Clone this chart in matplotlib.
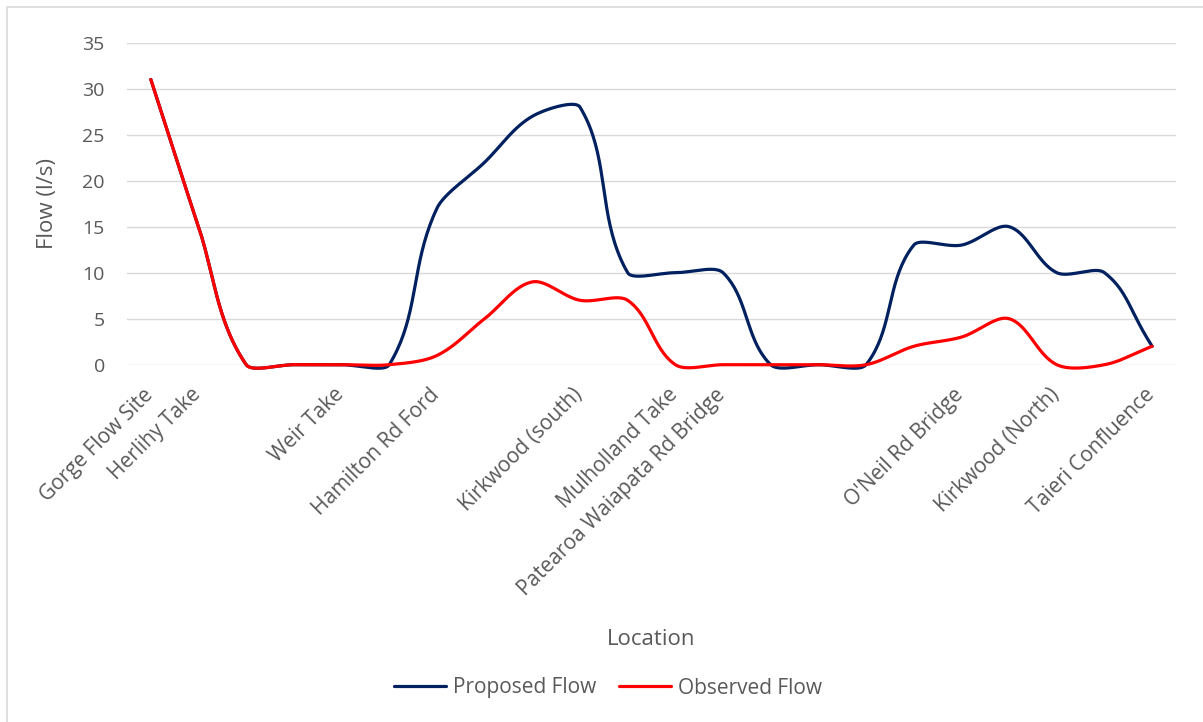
import numpy as np
import matplotlib.pyplot as plt
from matplotlib.patches import Rectangle
from matplotlib.transforms import ScaledTranslation

# Flow at each monitoring location along the river (l/s)
locations = [
    "Gorge Flow Site", "Herlihy Take", "", "", "Weir Take", "",
    "Hamilton Rd Ford", "", "", "Kirkwood (south)", "",
    "Mulholland Take", "Patearoa Waiapata Rd Bridge", "", "", "", "",
    "O'Neil Rd Bridge", "", "Kirkwood (North)", "", "Taieri Confluence",
]
proposed_flow = [31, 15, 0, 0, 0, 0, 17, 22, 27, 28, 10, 10, 10, 0, 0, 0, 13, 13, 15, 10, 10, 2]
observed_flow = [31, 15, 0, 0, 0, 0, 1, 5, 9, 7, 7, 0, 0, 0, 0, 0, 2, 3, 5, 0, 0, 2]

TEXT = "#595959"
GRID = "#d9d9d9"
BLUE = "#002060"
RED = "#ff0000"

plt.rcParams["font.family"] = ["Open Sans", "DejaVu Sans"]


def smooth_curve(ax, xs, ys, steps=40):
    """Bezier smoothing in screen space; control arms shrink next to long segments."""
    p = ax.transData.transform(np.column_stack([xs, ys]).astype(float))
    n = len(p)
    t = np.linspace(0, 1, steps)[:, None]
    k = (1 / 6) / 0.5 ** 1.5
    out = [p[:1]]
    for i in range(n - 1):
        p0, p1 = p[max(i - 1, 0)], p[i]
        p2, p3 = p[i + 1], p[min(i + 2, n - 1)]
        d01 = np.hypot(*(p1 - p0))
        d12 = np.hypot(*(p2 - p1))
        d23 = np.hypot(*(p3 - p2))
        c1 = p1 + (p2 - p0) * k * (d12 / (d01 + d12)) ** 1.5
        c2 = p2 - (p3 - p1) * k * (d12 / (d12 + d23)) ** 1.5
        seg = ((1 - t) ** 3 * p1 + 3 * (1 - t) ** 2 * t * c1
               + 3 * (1 - t) * t ** 2 * c2 + t ** 3 * p2)
        out.append(seg[1:])
    return ax.transData.inverted().transform(np.vstack(out))


fig = plt.figure(figsize=(12.03, 7.22), dpi=100)
ax = fig.add_axes([127 / 1203, 1 - 364.7 / 722, 1049 / 1203, 322 / 722])

x = np.arange(len(locations))
ax.set_xlim(-0.5, len(locations) - 0.5)
ax.set_ylim(0, 35)

for series, color, name in [(proposed_flow, BLUE, "Proposed Flow"),
                            (observed_flow, RED, "Observed Flow")]:
    curve = smooth_curve(ax, x, series)
    ax.plot(curve[:, 0], curve[:, 1], color=color, lw=2.3, clip_on=False,
            solid_capstyle="round", label=name, zorder=3)

ax.set_yticks(np.arange(0, 36, 5))
ax.grid(axis="y", color=GRID, lw=1.0)
ax.set_axisbelow(True)
for s in ax.spines.values():
    s.set_visible(False)

ax.set_xticks(x)
ax.set_xticklabels(locations, rotation=45, ha="right", va="top",
                   rotation_mode="anchor", fontsize=15, color=TEXT)
ax.tick_params(axis="x", length=0, pad=14)
ax.tick_params(axis="y", length=0, pad=16, labelsize=14, labelcolor=TEXT)
shift = ScaledTranslation(-6 / 72, 0, fig.dpi_scale_trans)
for lbl in ax.get_xticklabels():
    lbl.set_transform(lbl.get_transform() + shift)

ax.set_ylabel("Flow (l/s)", fontsize=16, color=TEXT)
ax.yaxis.set_label_coords((58 - 127) / 1049, 0.5)
ax.set_xlabel("Location", fontsize=16, color=TEXT)
ax.xaxis.set_label_coords(0.5, (364.7 - 629) / 322)

fig.legend(loc="center", bbox_to_anchor=(608 / 1203, 1 - 688 / 722), ncol=2,
           frameon=False, fontsize=15, labelcolor=TEXT, handlelength=2.5,
           handletextpad=0.35, columnspacing=1.1)

# chart area border
fig.patches.append(Rectangle((7 / 1203, -0.1), 1.2, 1.1 - 7 / 722,
                             transform=fig.transFigure, fill=False,
                             ec=GRID, lw=1.2))

fig.savefig("out.png", dpi=100)
